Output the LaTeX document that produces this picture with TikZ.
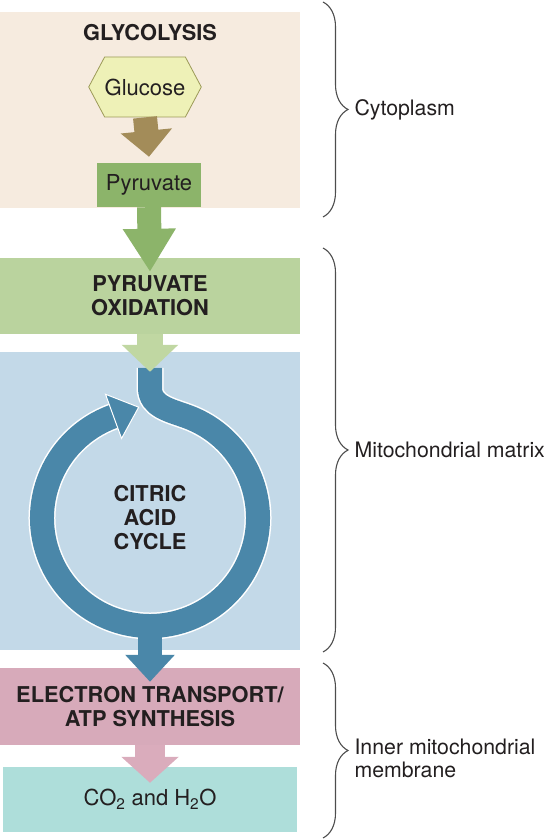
\documentclass[tikz,border=0pt]{standalone}
\usepackage{fontspec}
\setmainfont{TeX Gyre Heros}
\usetikzlibrary{shapes.symbols,arrows.meta,decorations.pathreplacing}

\definecolor{ink}{HTML}{231F20}
\definecolor{cytobg}{HTML}{F6EBDF}
\definecolor{glufill}{HTML}{EEF1B7}
\definecolor{gluline}{HTML}{9C9A58}
\definecolor{glubrown}{HTML}{A38C59}
\definecolor{pyrgreen}{HTML}{8CB46A}
\definecolor{oxgreen}{HTML}{BAD39E}
\definecolor{oxarrow}{HTML}{C0D7A2}
\definecolor{tcabg}{HTML}{C3D9E8}
\definecolor{tcaline}{HTML}{4A87A9}
\definecolor{etcpink}{HTML}{D7AABA}
\definecolor{etcarrow}{HTML}{DAACBC}
\definecolor{endteal}{HTML}{AEDEDA}
\definecolor{brcgray}{HTML}{4D4D4D}

\begin{document}
\begin{tikzpicture}[x=1pt, y=1pt,
  every node/.style = {inner sep=0pt, align=center, text=ink,
    font=\fontsize{22}{24}\selectfont},
  zone/.style = {rectangle, minimum width=300pt},
  bigtext/.style = {font=\fontsize{21.8}{24}\selectfont\bfseries},
  sidetext/.style = {font=\fontsize{21.3}{23}\selectfont, align=left},
  flow/.style = {line width=24pt,
    -{Triangle[length=26pt 0 0, width=50pt 0 0]}},
  brc/.style = {decorate, decoration={brace, amplitude=25pt},
    draw=brcgray, line width=1.1pt}]
  \useasboundingbox (0,0) rectangle (549,840);

  % compartments and steps
  \node[zone, fill=cytobg, minimum height=196pt] (cyto) at (150,730) {};
  \node[bigtext] (glyco) at (150,807) {GLYCOLYSIS};
  \node[signal, signal to=west and east, signal pointer angle=124,
    fill=glufill, draw=gluline, line width=0.8pt,
    minimum width=91pt, minimum height=60pt] (glucose) at (145,753) {Glucose};
  \node[fill=pyrgreen, minimum width=104pt, minimum height=44pt] (pyruvate) at (149,655) {Pyruvate};
  \node[zone, bigtext, fill=oxgreen, minimum height=76pt] (oxid) at (150,544) {PYRUVATE\\OXIDATION};
  \node[zone, fill=tcabg, minimum height=298pt] (tca) at (150,339) {};
  \node[bigtext] (cycle) at (150,322) {CITRIC\\ACID\\CYCLE};
  \node[zone, bigtext, fill=etcpink, minimum height=77pt] (etc) at (150,133.5) {ELECTRON TRANSPORT/\\ATP SYNTHESIS};
  \node[zone, fill=endteal, minimum width=294pt, minimum height=65pt] (prod) at (150,40.5) {CO\textsubscript{2} and H\textsubscript{2}O};

  % the cycle
  \coordinate (cyctop) at (150,472);
  \coordinate (cycmid) at (150,322);
  \coordinate (cycbot) at (150,214);
  \draw[white, line width=27pt] (cyctop) -- ++(0,-20)
    to[out=-90, in=160] ([shift={(70:108)}]cycmid)
    arc[start angle=70, end angle=-250, radius=108];
  \draw[tcaline, line width=24pt,
    -{Triangle[length=28pt 0 0, width=49pt 0 0, fill=tcaline, color=white, line width=1pt]}]
    (cyctop) -- ++(0,-20)
    to[out=-90, in=160] ([shift={(70:108)}]cycmid)
    arc[start angle=70, end angle=-250, radius=108] -- ++(20:28);

  % arrows
  \draw[flow, glubrown] (glucose.south) -- ([yshift=6pt]pyruvate.north);
  \draw[flow, pyrgreen, -{Triangle[length=43pt 0 0, width=50pt 0 0]}] (pyruvate.south) -- ([yshift=-14pt]oxid.north);
  \draw[flow, oxarrow, line width=26pt, -{Triangle[length=27pt 0 0, width=55pt 0 0]}] (oxid.south) -- ([yshift=-20pt]tca.north);
  \draw[flow, tcaline, -{Triangle[length=27pt 0 0, width=48pt 0 0]}] (cycbot) -- ([yshift=-14pt]etc.north);
  \draw[flow, etcarrow, line width=30pt, -{Triangle[length=26pt 0 0, width=56pt 0 0]}] (etc.south) -- ([yshift=-16pt]prod.north);

  % braces
  \draw[brc] (323,838) -- (323,623) node[midway, right=31pt, sidetext] (cytolbl) {Cytoplasm};
  \draw[brc] (323,592) -- (323,188) node[midway, right=31pt, sidetext] (matlbl) {Mitochondrial matrix};
  \draw[brc] (323,177) -- (323,2) node[midway, right=31pt, yshift=-8pt, sidetext] (memlbl) {Inner mitochondrial\\membrane};
\end{tikzpicture}
\end{document}
